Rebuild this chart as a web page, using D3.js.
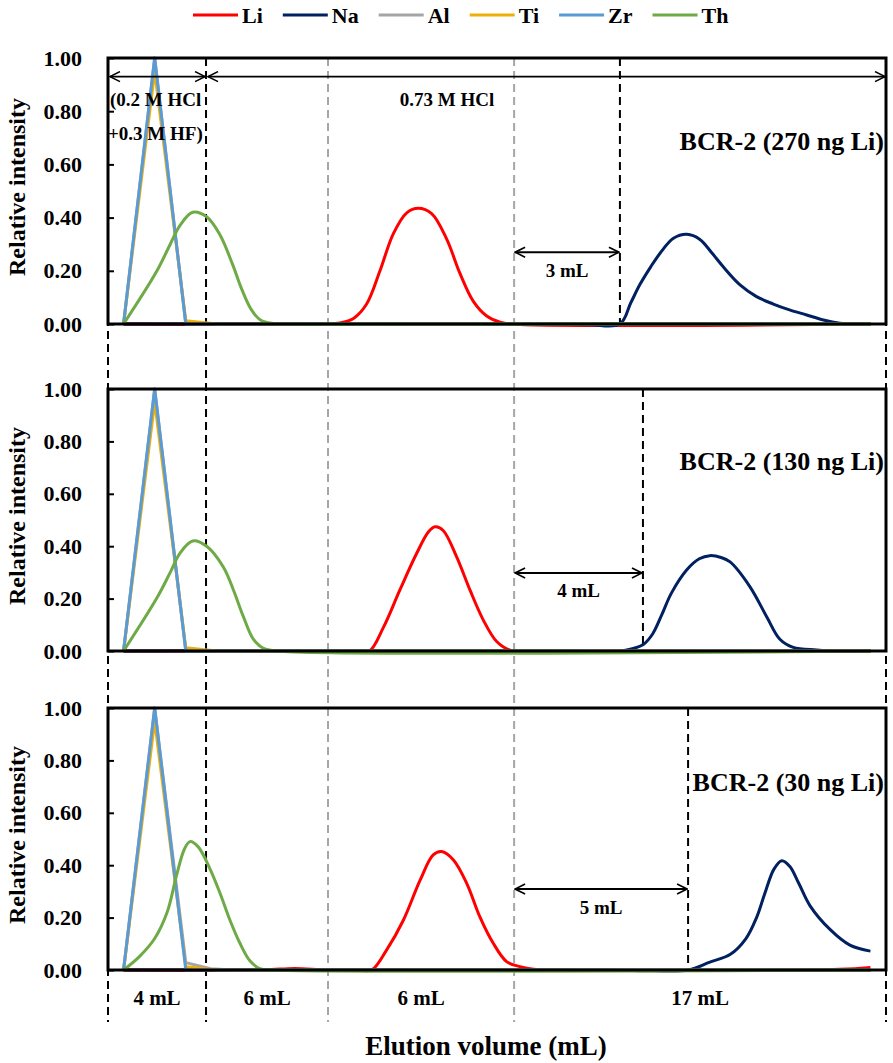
<!DOCTYPE html>
<html lang="en">
<head>
<meta charset="UTF-8">
<title>BCR-2 elution curves</title>
<script src="https://d3js.org/d3.v7.min.js"></script>
<style>
  body { margin: 0; background: #fff; }
  svg text { font-family: "Liberation Serif", "Times New Roman", serif; font-weight: bold; fill: #000; }
</style>
</head>
<body>
<svg id="chart"></svg>
<script>
// ---- data (x = fraction position, 0..25 across the plot; y = relative intensity) ----
const elements = ["Li", "Na", "Al", "Ti", "Zr", "Th"];
const sampleLabels = ["BCR-2 (270 ng Li)", "BCR-2 (130 ng Li)", "BCR-2 (30 ng Li)"];
const yTicks = [0, 0.2, 0.4, 0.6, 0.8, 1.0];

const stageBounds = [0, 3.15, 7.07, 13.05, 25];
const stageLabels = ["4 mL", "6 mL", "6 mL", "17 mL"];
const naStart = [16.45, 17.19, 18.64];
const gapLabels = ["3 mL", "4 mL", "5 mL"];
const gapArrowY = [0.27, 0.298, 0.309];
const sampleLabelY = [0.685, 0.725, 0.715];
const acidLabels = ["(0.2 M HCl", "+0.3 M HF)", "0.73 M HCl"];

// panel 1 : 270 ng Li
const li270 = [[0.5,0],[7,0],[7.45,0.004],[7.9,0.022],[8.31,0.075],[8.74,0.2],[9.17,0.34],[9.6,0.418],[9.97,0.435],[10.4,0.415],[10.88,0.32],[11.31,0.19],[11.74,0.085],[12.17,0.03],[12.6,0.007],[12.95,0],[24.5,0]];
const na270 = [[0.5,0],[14.5,0],[15.5,-0.003],[16.45,0],[16.8,0.08],[17.1,0.15],[17.44,0.215],[17.74,0.266],[18.17,0.322],[18.6,0.337],[19.02,0.318],[19.4,0.268],[19.77,0.215],[20.31,0.147],[20.84,0.103],[21.38,0.075],[21.9,0.053],[22.45,0.034],[22.99,0.015],[23.52,0.003],[24.06,0],[24.5,0]];
const al270 = [[0.5,0],[1.5,1.0],[2.5,0],[24.5,0]];
const ti270 = [[0.5,0],[1.5,0.95],[2.5,0.012],[3.5,0],[24.5,0]];
const zr270 = [[0.5,0],[1.5,1.0],[2.5,0],[24.5,0]];
const th270 = [[0.5,0],[1.56,0.197],[2.0,0.3],[2.31,0.37],[2.72,0.42],[3.17,0.403],[3.6,0.335],[4.0,0.225],[4.3,0.13],[4.6,0.055],[4.9,0.015],[5.3,0.002],[5.7,0],[6.5,-0.002],[8,0],[24.5,0]];

// panel 2 : 130 ng Li
const li130 = [[0.5,0],[8,0],[8.4,0],[8.85,0.09],[9.38,0.233],[9.92,0.373],[10.3,0.455],[10.51,0.474],[10.77,0.46],[11.2,0.36],[11.63,0.233],[12.06,0.118],[12.49,0.036],[12.92,0.003],[13.5,0],[24.5,0]];
const na130 = [[0.5,0],[15,0],[16,-0.003],[16.67,0.004],[17.2,0.025],[17.5,0.065],[17.8,0.14],[18.1,0.22],[18.6,0.31],[19.0,0.352],[19.34,0.364],[19.7,0.357],[19.99,0.34],[20.63,0.245],[21.17,0.13],[21.59,0.045],[22.02,0.014],[22.77,0.004],[23.3,0],[24.5,0]];
const al130 = [[0.5,0],[1.5,1.0],[2.5,0],[24.5,0]];
const ti130 = [[0.5,0],[1.5,0.95],[2.5,0.012],[3.5,0],[24.5,0]];
const zr130 = [[0.5,0],[1.5,1.0],[2.5,0],[24.5,0]];
const th130 = [[0.5,0],[1.56,0.2],[2.0,0.3],[2.31,0.373],[2.72,0.42],[3.17,0.4],[3.71,0.32],[4.03,0.233],[4.35,0.131],[4.67,0.045],[5.0,0.01],[5.4,0],[24.5,0]];

// panel 3 : 30 ng Li
const li30 = [[0.5,0],[5,0],[6,0.006],[7,0],[8,0],[8.47,0],[8.95,0.076],[9.49,0.19],[10.03,0.343],[10.45,0.439],[10.72,0.452],[11.1,0.42],[11.53,0.33],[11.95,0.203],[12.38,0.102],[12.81,0.032],[13.24,0.013],[13.67,0.003],[14.5,0],[23.5,0.003],[24.5,0.01]];
const na30 = [[0.5,0],[16,0],[17.5,-0.003],[18.65,0],[19.34,0.03],[20.0,0.06],[20.5,0.12],[20.84,0.2],[21.1,0.29],[21.4,0.385],[21.65,0.417],[21.91,0.395],[22.2,0.33],[22.56,0.245],[23.2,0.155],[23.84,0.095],[24.5,0.072]];
const al30 = [[0.5,0],[1.5,1.0],[2.5,0.028],[3.3,0.005],[4,0],[24.5,0]];
const ti30 = [[0.5,0],[1.5,0.95],[2.5,0.012],[3.5,0],[24.5,0]];
const zr30 = [[0.5,0],[1.5,1.0],[2.5,0],[24.5,0]];
const th30 = [[0.5,0],[1.0,0.05],[1.5,0.12],[1.9,0.22],[2.2,0.36],[2.45,0.46],[2.63,0.49],[2.9,0.47],[3.28,0.385],[3.6,0.293],[3.92,0.19],[4.24,0.102],[4.56,0.035],[4.88,0.005],[5.3,0],[24.5,0]];

const panelSeries = [
    [li270, na270, al270, ti270, zr270, th270],
    [li130, na130, al130, ti130, zr130, th130],
    [li30, na30, al30, ti30, zr30, th30]
];

// ---- layout ----
const width = 893, height = 1063;
const left = 108, right = 886;
const panelTop = [58, 389, 708];
const panelBottom = [324, 651, 970];
const colors = { Li: "#ff0000", Na: "#002060", Al: "#a5a5a5", Ti: "#ecb00c", Zr: "#5b9bd5", Th: "#6eaa45" };
const smoothEl = { Li: true, Na: true, Th: true };

const svg = d3.select("#chart").attr("width", width).attr("height", height);
svg.append("rect").attr("width", width).attr("height", height).attr("fill", "#fff");

const x = d3.scaleLinear().domain([0, 25]).range([left, right]);

// arrow marker
svg.append("defs").append("marker")
    .attr("id", "arrow")
    .attr("viewBox", "0 -6 12 12")
    .attr("refX", 11).attr("refY", 0)
    .attr("markerUnits", "userSpaceOnUse")
    .attr("markerWidth", 12).attr("markerHeight", 12)
    .attr("orient", "auto-start-reverse")
    .append("path")
    .attr("d", "M1,-5L11,0L1,5")
    .attr("fill", "none").attr("stroke", "#000").attr("stroke-width", 1.6);

// stage boundaries through all panels
stageBounds.forEach((b, i) => {
    const grey = i === 2 || i === 3;
    svg.append("line")
        .attr("x1", x(b)).attr("x2", x(b))
        .attr("y1", panelTop[0]).attr("y2", 1022)
        .attr("stroke", grey ? "#a6a6a6" : "#000")
        .attr("stroke-width", 2)
        .attr("stroke-dasharray", "8,5");
});

// stage volume labels
stageLabels.forEach((t, i) => {
    svg.append("text")
        .attr("x", x((stageBounds[i] + stageBounds[i + 1]) / 2))
        .attr("y", 998)
        .attr("text-anchor", "middle")
        .attr("dominant-baseline", "central")
        .attr("font-size", 21)
        .text(t);
});

panelSeries.forEach((series, p) => {
    const y = d3.scaleLinear().domain([0, 1]).range([panelBottom[p], panelTop[p]]);
    const g = svg.append("g");

    // Na start marker
    g.append("line")
        .attr("x1", x(naStart[p])).attr("x2", x(naStart[p]))
        .attr("y1", panelTop[p]).attr("y2", panelBottom[p])
        .attr("stroke", "#000").attr("stroke-width", 2)
        .attr("stroke-dasharray", "8,5");

    // curves
    series.forEach((d, k) => {
        const el = elements[k];
        const line = d3.line()
            .x(v => x(v[0]))
            .y(v => y(v[1]))
            .curve(smoothEl[el] ? d3.curveCatmullRom.alpha(0.5) : d3.curveLinear);
        g.append("path")
            .datum(d)
            .attr("d", line)
            .attr("fill", "none")
            .attr("stroke", colors[el])
            .attr("stroke-width", 3)
            .attr("stroke-linejoin", "round");
    });

    // y axis
    const axis = g.append("g")
        .attr("transform", `translate(${left},0)`)
        .call(d3.axisLeft(y).tickValues(yTicks).tickFormat(d3.format(".2f"))
            .tickSizeInner(-6).tickSizeOuter(0).tickPadding(26));
    axis.select(".domain").remove();
    axis.selectAll(".tick line").attr("stroke", "#000").attr("stroke-width", 2);
    axis.selectAll(".tick text")
        .attr("font-size", 22)
        .attr("font-family", "Liberation Serif, serif")
        .attr("font-weight", "bold")
        .attr("fill", "#000");

    // frame
    g.append("rect")
        .attr("x", left).attr("y", panelTop[p])
        .attr("width", right - left).attr("height", panelBottom[p] - panelTop[p])
        .attr("fill", "none").attr("stroke", "#000").attr("stroke-width", 3);

    g.append("text")
        .attr("transform", `translate(17,${(panelTop[p] + panelBottom[p]) / 2 - 4}) rotate(-90)`)
        .attr("text-anchor", "middle")
        .attr("dominant-baseline", "central")
        .attr("font-size", 24)
        .text("Relative intensity");

    g.append("text")
        .attr("x", right - 2).attr("y", y(sampleLabelY[p]))
        .attr("text-anchor", "end")
        .attr("dominant-baseline", "central")
        .attr("font-size", 26)
        .text(sampleLabels[p]);

    // gap arrow between Li cut and Na start
    g.append("line")
        .attr("x1", x(stageBounds[3]) + 1).attr("x2", x(naStart[p]) - 1)
        .attr("y1", y(gapArrowY[p])).attr("y2", y(gapArrowY[p]))
        .attr("stroke", "#000").attr("stroke-width", 2)
        .attr("marker-start", "url(#arrow)").attr("marker-end", "url(#arrow)");
    g.append("text")
        .attr("x", (x(stageBounds[3]) + x(naStart[p])) / 2)
        .attr("y", y(gapArrowY[p]) + 18)
        .attr("text-anchor", "middle")
        .attr("dominant-baseline", "central")
        .attr("font-size", 19)
        .text(gapLabels[p]);

    if (p === 0) {
        const ya = y(0.93);
        [[0, 1], [1, 4]].forEach(([a, b]) => {
            g.append("line")
                .attr("x1", x(stageBounds[a]) + 2).attr("x2", x(stageBounds[b]) - 1)
                .attr("y1", ya).attr("y2", ya)
                .attr("stroke", "#000").attr("stroke-width", 1.8)
                .attr("marker-start", "url(#arrow)").attr("marker-end", "url(#arrow)");
        });
        g.append("text").attr("x", left + 2).attr("y", 99)
            .attr("dominant-baseline", "central").attr("font-size", 19).text(acidLabels[0]);
        g.append("text").attr("x", left).attr("y", 133)
            .attr("dominant-baseline", "central").attr("font-size", 19).text(acidLabels[1]);
        g.append("text").attr("x", 447).attr("y", 99)
            .attr("text-anchor", "middle")
            .attr("dominant-baseline", "central").attr("font-size", 19).text(acidLabels[2]);
    }
});

// legend
let lx = 193;
elements.forEach(el => {
    svg.append("line")
        .attr("x1", lx).attr("x2", lx + 45)
        .attr("y1", 15).attr("y2", 15)
        .attr("stroke", colors[el]).attr("stroke-width", 3);
    const t = svg.append("text")
        .attr("x", lx + 49).attr("y", 15)
        .attr("dominant-baseline", "central")
        .attr("font-size", 22)
        .text(el);
    lx += 49 + t.node().getComputedTextLength() + 20;
});

svg.append("text")
    .attr("x", 486).attr("y", 1046)
    .attr("text-anchor", "middle")
    .attr("dominant-baseline", "central")
    .attr("font-size", 27)
    .text("Elution volume (mL)");
</script>
</body>
</html>
